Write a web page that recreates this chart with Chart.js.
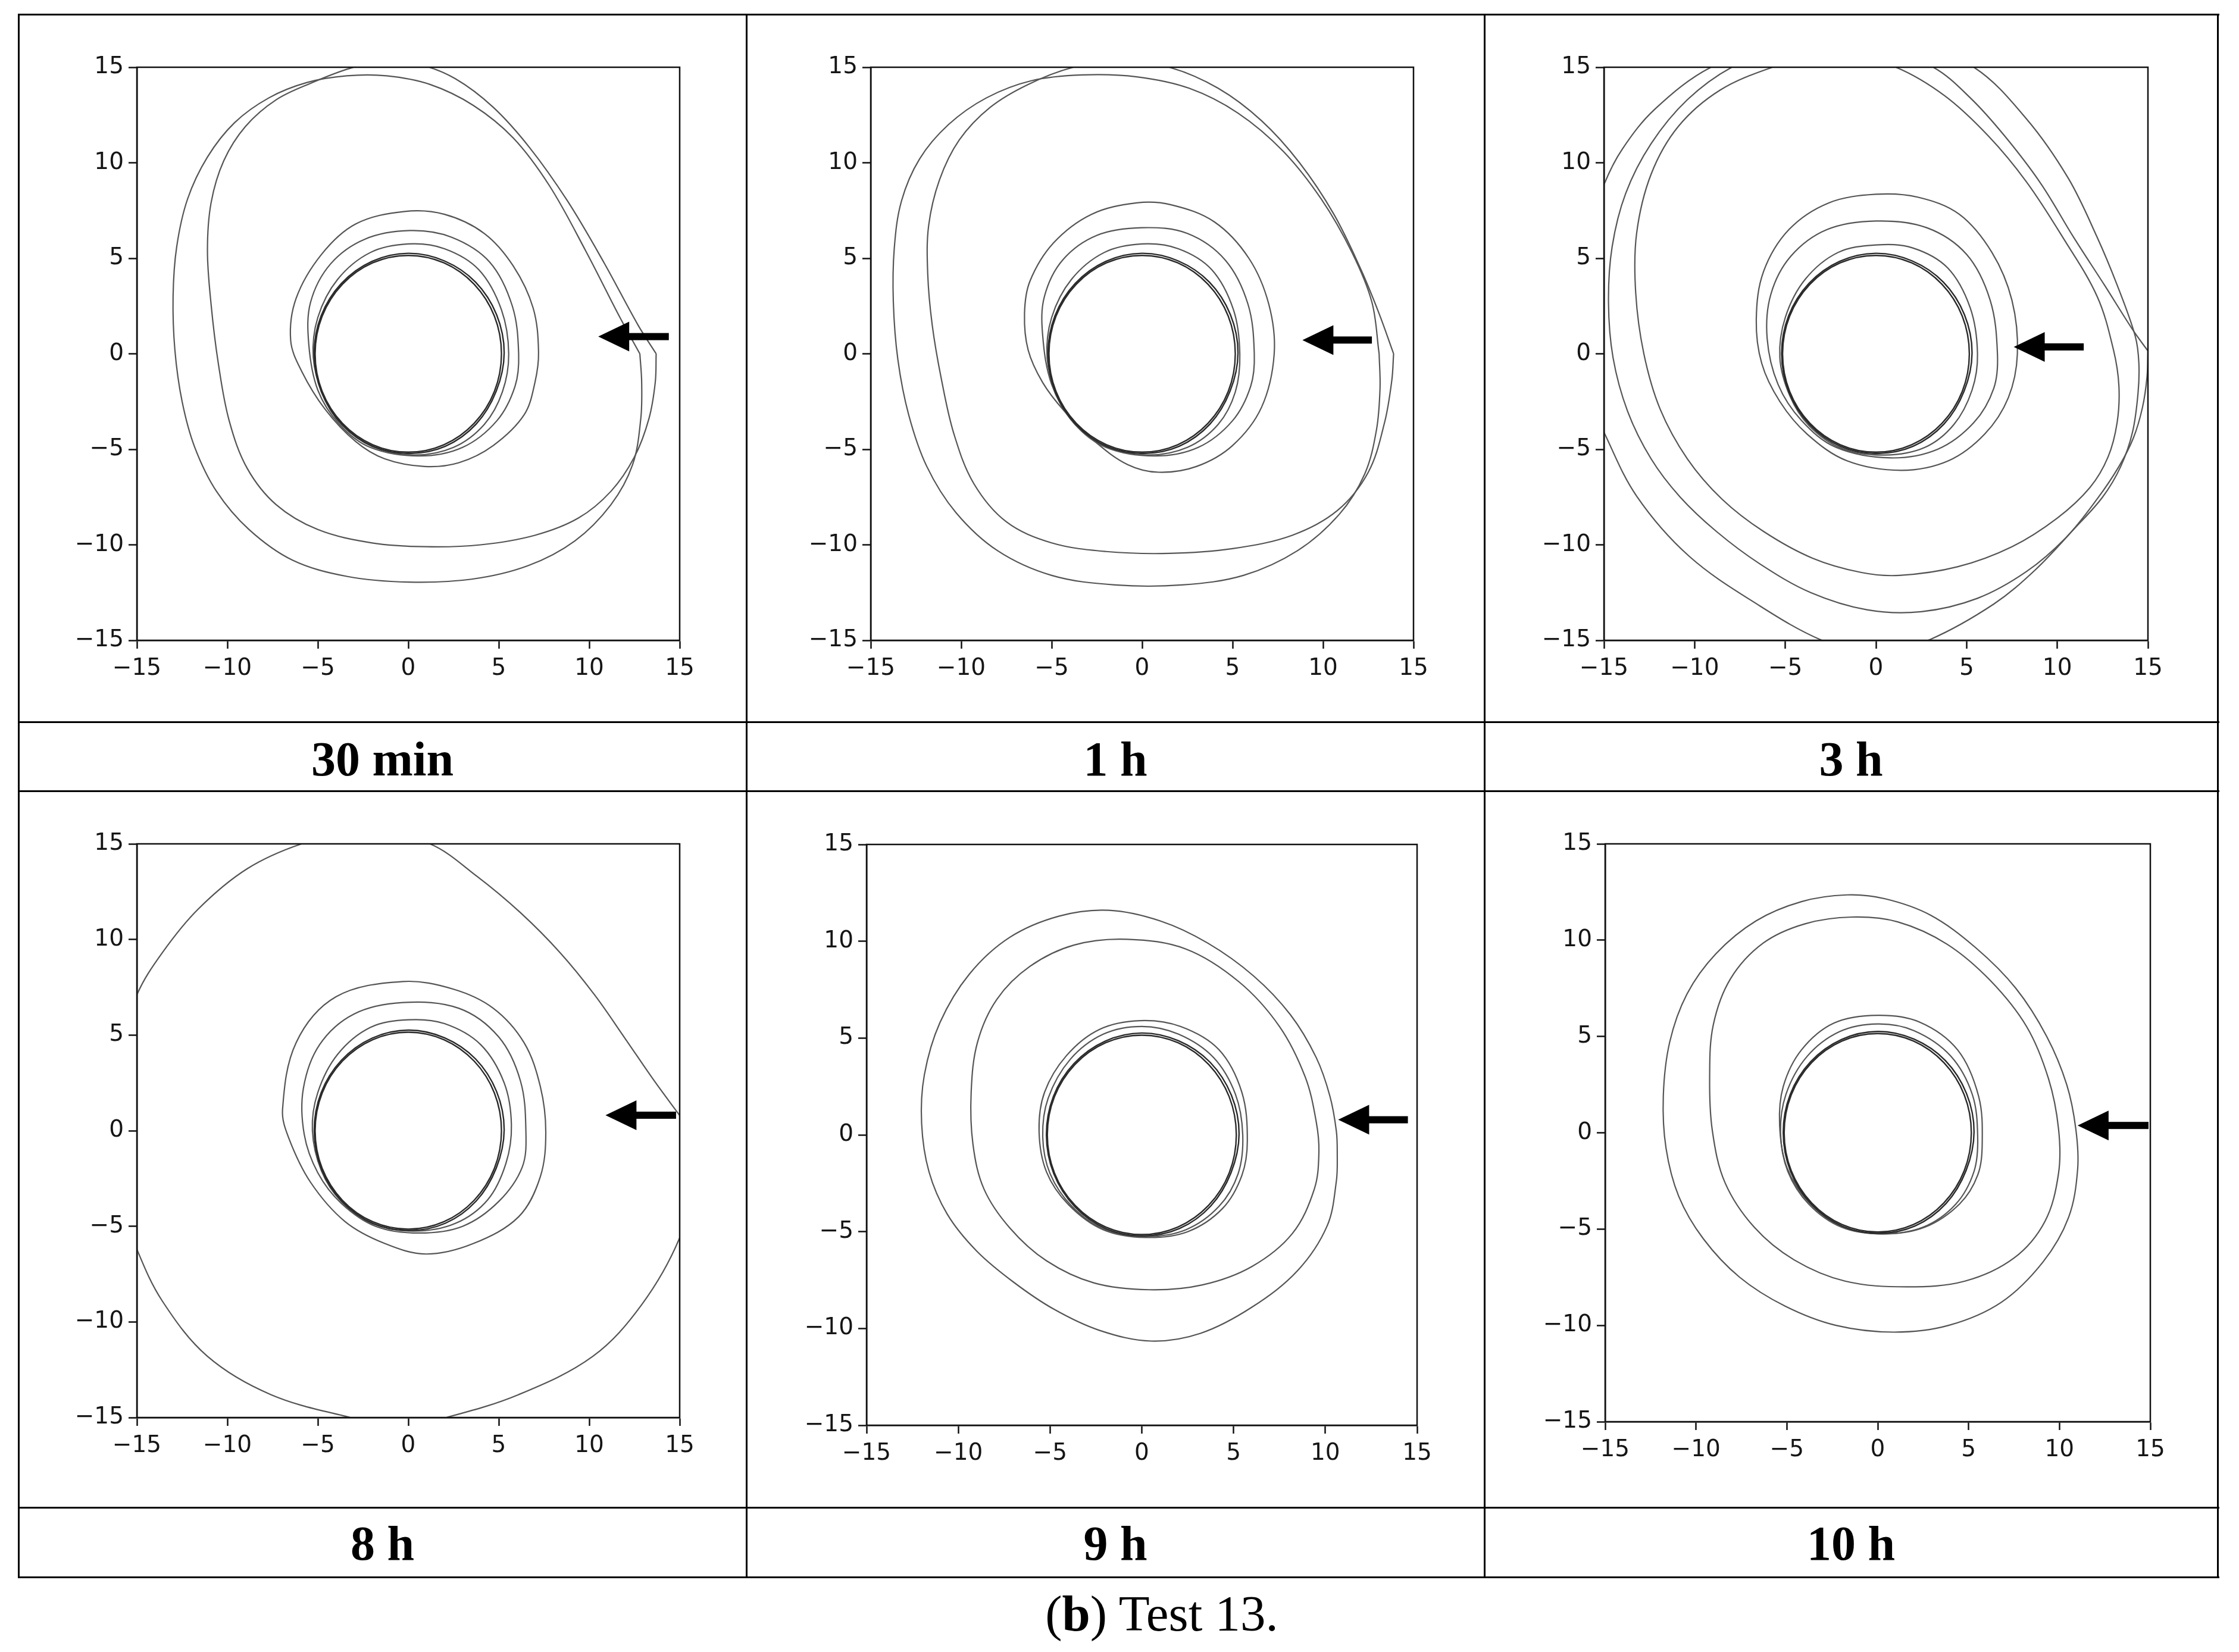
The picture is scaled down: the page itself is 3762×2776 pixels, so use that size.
<!DOCTYPE html>
<html><head><meta charset="utf-8">
<script src="https://cdn.jsdelivr.net/npm/chart.js@4.4.0/dist/chart.umd.min.js"></script>
<style>
html,body{margin:0;padding:0;background:#fff;}
body{width:3762px;height:2776px;position:relative;overflow:hidden;}
canvas{position:absolute;}
.hl{position:absolute;background:#000;height:3px;z-index:2;}
.vl{position:absolute;background:#000;width:3px;z-index:2;}
.cap{position:absolute;font-family:"Liberation Serif","Times New Roman",serif;font-weight:bold;font-size:82px;line-height:100px;height:100px;text-align:center;color:#000;}
.fig{position:absolute;left:1452px;top:2661px;width:1000px;font-family:"Liberation Serif","Times New Roman",serif;font-size:85px;line-height:100px;text-align:center;color:#000;}
</style></head>
<body>
<div class="hl" style="left:30px;top:23px;width:3699px"></div>
<div class="hl" style="left:30px;top:1212px;width:3699px"></div>
<div class="hl" style="left:30px;top:1328px;width:3699px"></div>
<div class="hl" style="left:30px;top:2532px;width:3699px"></div>
<div class="hl" style="left:30px;top:2649px;width:3699px"></div>
<div class="vl" style="left:30px;top:23px;height:2629px"></div>
<div class="vl" style="left:1253px;top:23px;height:2629px"></div>
<div class="vl" style="left:2493px;top:23px;height:2629px"></div>
<div class="vl" style="left:3725px;top:23px;height:2629px"></div>
<div class="fig">(<b>b</b>) Test 13.</div>
<script>
// ---------- data ----------
const tickValues = [-15, -10, -5, 0, 5, 10, 15];
const panelTitles = ['30 min', '1 h', '3 h', '8 h', '9 h', '10 h'];

const circleA = [[5.15,0],[4.76,1.97],[3.64,3.64],[1.97,4.76],[0,5.15],[-1.97,4.76],[-3.64,3.64],[-4.76,1.97],[-5.15,0],[-4.76,-1.97],[-3.64,-3.64],[-1.97,-4.76],[0,-5.15],[1.97,-4.76],[3.64,-3.64],[4.76,-1.97]];
const circleB = [[5.3,0.05],[4.88,2.05],[3.72,3.75],[2.0,4.86],[0,5.26],[-2.0,4.84],[-3.7,3.68],[-4.82,1.98],[-5.2,0],[-4.8,-2.0],[-3.66,-3.7],[-1.95,-4.85],[0.05,-5.22],[2.05,-4.84],[3.75,-3.68],[4.86,-1.96]];

// panel 1 : 30 min
const p1RingA = [[5.55,0],[5.15,2.3],[3.9,4.4],[2.0,5.5],[0,5.75],[-2.1,5.3],[-3.9,3.9],[-5.0,1.9],[-5.25,-0.2],[-4.7,-2.2],[-3.7,-3.7],[-2.0,-4.85],[0.3,-5.3],[2.5,-4.9],[4.2,-3.7],[5.2,-2.0]];
const p1RingB = [[6.1,0],[5.75,2.5],[4.5,4.8],[2.4,6.1],[0.1,6.45],[-2.4,6.0],[-4.3,4.7],[-5.4,2.7],[-5.5,0.5],[-5.0,-1.9],[-3.8,-3.7],[-2.1,-4.9],[0.6,-5.35],[3.0,-4.9],[4.9,-3.5],[5.9,-1.7]];
const p1RingC = [[7.2,0.1],[6.9,2.4],[5.8,4.6],[4.2,6.3],[2.0,7.3],[-0.2,7.45],[-2.9,6.8],[-4.8,5.2],[-6.2,2.9],[-6.5,0.7],[-5.9,-0.9],[-4.6,-2.9],[-2.9,-4.6],[-1.3,-5.5],[0.9,-5.9],[2.8,-5.7],[4.7,-4.8],[6.4,-3.2],[7.0,-1.5]];
const p1LoopA = [[13.7,0],[12.7,1.5],[10.8,4.8],[8.8,8.0],[6.7,10.8],[4.7,12.9],[2.6,14.4],[0.6,15.15],[-1.3,15.3],[-3.2,14.95],[-5.3,14.2],[-7.3,13.3],[-9.0,11.9],[-10.2,10.1],[-10.9,7.9],[-11.1,5.4],[-10.9,2.6],[-10.5,-0.5],[-9.9,-3.5],[-8.9,-6.0],[-7.3,-7.9],[-5.0,-9.2],[-2.0,-9.9],[1.0,-10.1],[4.0,-10.0],[7.0,-9.5],[9.4,-8.6],[11.2,-7.2],[12.5,-5.4],[13.3,-3.4],[13.65,-1.5],[13.7,0]];
const p1LoopB = [[12.8,0],[11.7,1.9],[9.8,5.4],[7.8,8.8],[5.8,11.3],[3.6,13.0],[1.2,14.1],[-1.2,14.55],[-3.4,14.55],[-5.6,14.2],[-7.7,13.4],[-9.6,12.1],[-11.1,10.3],[-12.2,8.1],[-12.8,5.6],[-13.0,3.0],[-12.9,0.2],[-12.5,-2.5],[-11.8,-4.9],[-10.6,-7.2],[-8.8,-9.2],[-6.4,-10.8],[-3.4,-11.65],[0,-11.95],[3.5,-11.8],[6.6,-11.1],[9.2,-9.8],[11.2,-7.9],[12.4,-5.8],[12.85,-3.4],[12.9,-1.5],[12.8,0]];
const p1Arrow = [14.4, 10.5, 0.9];

// panel 2 : 1 h
const p2RingA = [[5.4,0],[5.05,2.3],[3.85,4.4],[2.0,5.5],[0,5.75],[-2.1,5.3],[-3.9,3.9],[-5.0,1.9],[-5.25,-0.2],[-4.7,-2.2],[-3.7,-3.7],[-2.0,-4.85],[0.3,-5.3],[2.5,-4.9],[4.2,-3.7],[5.15,-2.0]];
const p2RingB = [[6.2,0],[5.85,2.6],[4.6,4.9],[2.5,6.3],[0,6.6],[-2.5,6.2],[-4.4,4.9],[-5.4,3.0],[-5.5,1.0],[-5.0,-1.6],[-3.8,-3.6],[-2.0,-4.9],[0.7,-5.35],[3.1,-4.9],[5.0,-3.5],[6.0,-1.7]];
const p2RingC = [[7.3,0],[7.0,2.6],[5.9,5.0],[4.0,6.9],[1.6,7.8],[-0.3,7.9],[-2.8,7.3],[-4.9,5.8],[-6.2,3.8],[-6.5,2.1],[-6.3,0.2],[-5.5,-1.5],[-4.3,-3.0],[-2.6,-4.6],[-0.8,-5.8],[0.9,-6.2],[3.0,-5.9],[5.0,-4.8],[6.6,-2.8]];
const p2LoopA = [[13.9,0],[13.1,2.1],[12.1,4.4],[10.6,7.3],[8.7,10.0],[6.6,12.2],[4.2,13.9],[1.5,15.0],[-1.2,15.35],[-3.8,15.0],[-6.3,14.1],[-8.4,12.9],[-10.1,11.2],[-11.2,9.1],[-11.8,6.7],[-11.85,4.2],[-11.6,1.5],[-11.1,-1.3],[-10.4,-4.2],[-9.3,-6.8],[-7.5,-8.8],[-5.0,-9.9],[-2.0,-10.35],[1.5,-10.45],[5.0,-10.2],[8.3,-9.5],[10.8,-8.2],[12.5,-6.2],[13.4,-3.6],[13.8,-1.4],[13.9,0]];
const p2LoopB = [[13.1,0],[12.7,2.7],[11.6,5.3],[9.9,8.1],[7.8,10.6],[5.3,12.6],[2.6,13.9],[-0.3,14.5],[-3.3,14.6],[-6.1,14.3],[-8.6,13.4],[-10.7,12.0],[-12.3,10.2],[-13.3,8.0],[-13.7,5.5],[-13.75,2.7],[-13.5,-0.3],[-12.9,-3.2],[-11.9,-5.9],[-10.3,-8.3],[-8.0,-10.3],[-5.0,-11.6],[-1.5,-12.1],[2.2,-12.1],[5.6,-11.6],[8.6,-10.3],[10.9,-8.4],[12.3,-6.3],[12.95,-4.0],[13.15,-1.8],[13.1,0]];
const p2Arrow = [12.7, 8.86, 0.72];

// panel 3 : 3 h
const p3RingA = [[5.6,0],[5.2,2.4],[3.95,4.5],[2.0,5.55],[0,5.7],[-2.1,5.3],[-3.9,3.9],[-5.0,1.9],[-5.3,-0.2],[-4.75,-2.2],[-3.7,-3.75],[-1.9,-4.95],[0.5,-5.3],[2.7,-4.9],[4.3,-3.7],[5.3,-1.9]];
const p3RingB = [[6.7,0],[6.3,2.8],[5.0,5.2],[2.8,6.6],[0,6.95],[-2.7,6.5],[-4.7,5.1],[-5.8,3.1],[-6.0,0.8],[-5.4,-1.6],[-4.1,-3.5],[-2.2,-4.9],[0.8,-5.45],[3.4,-5.0],[5.4,-3.6],[6.5,-1.8]];
const p3RingC = [[7.8,0],[7.5,2.8],[6.4,5.3],[4.6,7.3],[2.3,8.2],[0,8.35],[-2.6,7.9],[-4.8,6.5],[-6.2,4.3],[-6.6,1.8],[-6.3,-0.5],[-5.3,-2.5],[-3.8,-4.2],[-1.6,-5.6],[1.4,-6.1],[4.0,-5.6],[6.0,-4.2],[7.3,-2.3]];
const p3LoopI = [[13.1,0.2],[12.2,3.0],[10.3,6.1],[8.3,9.0],[6.2,11.4],[3.8,13.5],[1.1,15.0],[-2.3,15.9],[-5.7,15.0],[-8.6,13.8],[-10.9,11.9],[-12.4,9.4],[-13.2,6.3],[-13.25,3.2],[-12.8,0.0],[-11.9,-2.9],[-10.4,-5.5],[-8.5,-7.6],[-6.2,-9.3],[-3.5,-10.7],[-0.8,-11.45],[1.3,-11.6],[4.5,-11.15],[7.5,-10.1],[10.0,-8.6],[11.8,-7.0],[12.8,-5.4],[13.3,-3.6],[13.4,-1.7]];
const p3LoopM = [[15.0,0.15],[14.2,1.2],[12.6,3.6],[10.9,6.1],[9.1,8.9],[7.1,11.4],[5.2,13.4],[3.16,15.0],[-0.5,16.4],[-4.5,16.3],[-7.95,15.0],[-10.4,13.3],[-12.4,11.0],[-13.8,8.4],[-14.55,5.6],[-14.75,2.7],[-14.5,-0.2],[-13.7,-3.0],[-12.4,-5.5],[-10.8,-7.5],[-8.8,-9.3],[-6.4,-11.0],[-3.6,-12.5],[-0.5,-13.4],[2.5,-13.5],[5.6,-12.8],[8.3,-11.4],[10.5,-9.6],[12.2,-7.6],[13.4,-5.9],[14.2,-4.4],[14.7,-2.8],[14.95,-1.2],[15.0,0.15]];
const p3LoopO = [[14.3,0.92],[13.3,3.6],[12.2,6.1],[10.6,9.2],[8.3,12.3],[5.4,15.0],[1.0,16.8],[-4.0,16.8],[-9.1,15.0],[-12.2,12.8],[-14.0,10.7],[-15.0,8.85],[-16.0,6.0],[-16.5,2.0],[-16.2,-1.5],[-15.0,-4.1],[-13.2,-7.45],[-10.3,-10.6],[-6.4,-13.2],[-2.98,-15.0],[0,-15.8],[3.0,-14.95],[6.5,-13.1],[8.8,-11.3],[10.9,-9.2],[12.5,-7.5],[13.5,-5.9],[14.15,-4.1],[14.45,-2.1],[14.5,-0.5]];
const p3Arrow = [11.46, 7.6, 0.36];

// panel 4 : 8 h
const p4RingA = [[5.7,0.3],[5.3,2.5],[4.0,4.5],[2.0,5.6],[0,5.8],[-2.1,5.4],[-3.9,4.0],[-5.0,2.0],[-5.3,0],[-4.8,-2.1],[-3.7,-3.7],[-2.0,-4.85],[0.3,-5.25],[2.6,-4.85],[4.4,-3.6],[5.4,-1.7]];
const p4RingB = [[6.5,0],[6.2,2.6],[5.0,4.9],[2.8,6.4],[-0.3,6.7],[-3.0,6.1],[-4.9,4.5],[-5.8,2.2],[-5.75,-0.2],[-5.0,-2.2],[-3.7,-3.8],[-1.8,-5.0],[0.6,-5.35],[3.0,-5.0],[5.0,-3.7],[6.3,-1.9]];
const p4RingC = [[7.6,-0.07],[7.3,2.3],[6.4,4.6],[4.7,6.4],[2.5,7.4],[-0.3,7.8],[-4.0,7.0],[-6.2,4.6],[-6.95,1.1],[-6.6,-0.4],[-5.4,-2.7],[-3.5,-4.75],[-1.3,-5.9],[1.0,-6.45],[3.6,-5.9],[6.1,-4.5],[7.3,-2.4]];
const p4LoopA = [[15.0,0.8],[13.6,2.6],[12.0,4.8],[10.3,7.1],[8.4,9.3],[6.2,11.4],[3.8,13.3],[1.2,15.0],[-2.4,15.8],[-5.9,15.0],[-8.9,13.7],[-11.6,11.6],[-13.6,9.3],[-15.0,7.1],[-16.2,3.5],[-16.5,0],[-16.2,-3.0],[-15.0,-6.2],[-13.6,-8.9],[-11.1,-11.8],[-7.6,-13.8],[-3.2,-15.0],[-0.5,-15.5],[2.1,-15.0],[6.1,-13.8],[10.2,-11.8],[12.9,-9.1],[15.0,-5.6],[15.8,-2.5],[15.6,0],[15.0,0.8]];
const p4Arrow = [14.8, 10.9, 0.81];

// panel 5 : 9 h
const p5RingA = [[5.75,-0.3],[5.45,2.2],[4.2,4.4],[2.1,5.6],[-0.1,5.9],[-2.3,5.45],[-4.1,4.1],[-5.3,2.2],[-5.6,0.2],[-5.2,-1.9],[-4.0,-3.6],[-2.1,-4.9],[0.2,-5.3],[2.5,-5.0],[4.4,-3.8],[5.45,-2.1]];
const p5RingB = [[5.5,0],[5.1,2.1],[3.9,4.0],[2.0,5.2],[0,5.6],[-2.1,5.2],[-3.9,3.9],[-5.1,1.9],[-5.4,-0.1],[-5.0,-2.0],[-3.8,-3.7],[-2.0,-4.9],[0.2,-5.25],[2.4,-4.9],[4.2,-3.7],[5.25,-2.0]];
const p5OvalOuter = [[10.6,0.2],[10.25,2.0],[9.5,4.0],[8.1,6.2],[6.1,8.2],[3.6,9.9],[1.0,11.05],[-1.8,11.6],[-4.5,11.3],[-7.2,10.2],[-9.4,8.3],[-11.0,5.8],[-11.85,3.1],[-12.0,0.6],[-11.6,-1.9],[-10.6,-4.1],[-9.0,-6.0],[-7.0,-7.6],[-4.8,-9.0],[-2.3,-10.1],[0.5,-10.65],[3.2,-10.25],[6.0,-8.9],[8.5,-7.0],[10.1,-4.7],[10.6,-2.4],[10.65,-1.0]];
const p5OvalInner = [[9.5,0.7],[8.9,3.0],[7.5,5.6],[5.3,7.9],[2.4,9.6],[-0.8,10.1],[-3.7,9.8],[-6.1,8.7],[-7.9,7.0],[-8.95,4.8],[-9.3,2.2],[-9.2,-0.5],[-8.6,-2.8],[-7.2,-4.8],[-5.2,-6.5],[-2.6,-7.65],[0.4,-8.0],[3.3,-7.75],[6.0,-6.8],[8.2,-5.1],[9.4,-2.8],[9.65,-0.9]];
const p5Arrow = [14.5, 10.7, 0.78];

// panel 6 : 10 h
const p6RingA = [[5.75,-0.5],[5.55,1.9],[4.4,4.3],[2.3,5.75],[0,6.1],[-2.4,5.7],[-4.2,4.3],[-5.2,2.4],[-5.4,0.4],[-5.0,-1.8],[-3.8,-3.6],[-2.0,-4.85],[0.3,-5.25],[2.6,-4.9],[4.5,-3.7],[5.5,-2.2]];
const p6RingB = [[5.5,-0.2],[5.2,2.0],[4.0,4.0],[2.0,5.3],[0,5.65],[-2.1,5.25],[-3.9,3.95],[-5.05,2.0],[-5.35,0],[-4.95,-2.0],[-3.8,-3.7],[-2.0,-4.9],[0.2,-5.25],[2.5,-4.9],[4.3,-3.7],[5.3,-2.0]];
const p6OvalOuter = [[10.9,0.2],[10.4,2.5],[9.3,5.0],[7.6,7.5],[5.4,9.6],[2.9,11.3],[0.4,12.15],[-1.7,12.35],[-4.2,12.0],[-6.7,11.0],[-8.9,9.3],[-10.5,7.2],[-11.45,4.7],[-11.8,1.9],[-11.65,-0.8],[-10.95,-3.3],[-9.6,-5.5],[-7.6,-7.5],[-5.1,-9.0],[-2.3,-10.0],[0.9,-10.35],[3.9,-10.0],[6.8,-8.8],[9.1,-6.7],[10.5,-4.4],[11.0,-1.9]];
const p6OvalInner = [[9.95,0.2],[9.4,2.8],[8.2,5.5],[6.2,7.9],[3.8,9.8],[1.1,10.95],[-1.4,11.2],[-4.0,10.85],[-6.3,9.85],[-8.1,8.0],[-9.05,5.6],[-9.25,2.9],[-9.1,0.1],[-8.4,-2.6],[-6.8,-4.9],[-4.6,-6.6],[-1.8,-7.7],[1.6,-8.0],[4.8,-7.7],[7.5,-6.5],[9.2,-4.6],[9.95,-2.1]];
const p6Arrow = [14.9, 11.0, 0.38];

// ---------- layout ----------
const panels = [
  {rect:[230,113,912,963],  curves:[[circleA,1],[circleB,1],[p1RingA,1],[p1RingB,1],[p1RingC,1],[p1LoopA,0],[p1LoopB,0]], arrow:p1Arrow},
  {rect:[1463,113,912,963], curves:[[circleA,1],[circleB,1],[p2RingA,1],[p2RingB,1],[p2RingC,1],[p2LoopA,0],[p2LoopB,0]], arrow:p2Arrow},
  {rect:[2695,113,914,963], curves:[[circleA,1],[circleB,1],[p3RingA,1],[p3RingB,1],[p3RingC,1],[p3LoopI,1],[p3LoopM,0],[p3LoopO,1]], arrow:p3Arrow},
  {rect:[230,1418,912,964], curves:[[circleA,1],[circleB,1],[p4RingA,1],[p4RingB,1],[p4RingC,1],[p4LoopA,0]], arrow:p4Arrow},
  {rect:[1456,1419,925,976],curves:[[circleA,1],[circleB,1],[p5RingA,1],[p5RingB,1],[p5OvalOuter,1],[p5OvalInner,1]], arrow:p5Arrow},
  {rect:[2697,1418,916,971],curves:[[circleA,1],[circleB,1],[p6RingA,1],[p6RingB,1],[p6OvalOuter,1],[p6OvalInner,1]], arrow:p6Arrow}
];
const cellCols = [31, 1254, 2494, 3726];
const capTops = [1226, 2544];

const loopPlugin = {
  id: 'loopClose',
  afterDatasetUpdate(chart, args) {
    const ds = chart.data.datasets[args.index];
    const line = args.meta.dataset;
    if (ds.closedLoop && line) {
      line._loop = true; line._fullLoop = true;
      delete line._segments; delete line._path; line._pointsUpdated = false;
    }
  }
};
const framePlugin = {
  id: 'frameArrow',
  afterDraw(chart) {
    const ctx = chart.ctx, a = chart.chartArea;
    ctx.save();
    ctx.strokeStyle = '#111'; ctx.lineWidth = 2.5;
    ctx.strokeRect(a.left, a.top, a.right - a.left, a.bottom - a.top);
    const arr = chart.options.plugins.frameArrow.arrow;
    if (arr) {
      const xs = chart.scales.x, ys = chart.scales.y;
      const tx = xs.getPixelForValue(arr[0]), hx = xs.getPixelForValue(arr[1]), py = ys.getPixelForValue(arr[2]);
      const HL = 52, HH = 25, SH = 6;
      ctx.fillStyle = '#000';
      ctx.fillRect(hx + HL - 2, py - SH, tx - (hx + HL - 2), SH * 2);
      ctx.beginPath();
      ctx.moveTo(hx, py); ctx.lineTo(hx + HL, py - HH); ctx.lineTo(hx + HL, py + HH); ctx.closePath();
      ctx.fill();
    }
    ctx.restore();
  }
};
Chart.register(loopPlugin, framePlugin);

function axis(isX) {
  return {
    type: 'linear', min: -15, max: 15,
    afterBuildTicks: s => { s.ticks = tickValues.map(v => ({value: v})); },
    ticks: {
      autoSkip: false, maxRotation: 0, padding: isX ? 10 : 8, color: '#151515',
      font: {family: 'DejaVu Sans', size: 39},
      callback: v => (v < 0 ? '\u2212' + Math.abs(v) : String(v))
    },
    grid: {drawOnChartArea: false, drawTicks: true, tickLength: 14, tickWidth: 2.5, tickColor: '#111'},
    border: {display: true, color: '#111', width: 2.5},
    afterFit: s => { if (isX) s.height = 90; else s.width = 160; }
  };
}

panels.forEach((p, i) => {
  const [L, T, W, H] = p.rect;
  const padL = 160, padT = 40, padR = 40, padB = 90;
  const cv = document.createElement('canvas');
  cv.width = W + padL + padR; cv.height = H + padT + padB;
  cv.style.left = (L - padL) + 'px'; cv.style.top = (T - padT) + 'px';
  cv.style.width = cv.width + 'px'; cv.style.height = cv.height + 'px';
  document.body.appendChild(cv);
  const datasets = p.curves.map(([pts, closed], k) => ({
    data: pts.map(([x, y]) => ({x, y})),
    showLine: true, closedLoop: !!closed,
    borderColor: k < 2 ? '#2a2a2a' : '#555',
    borderWidth: k < 2 ? 2.4 : 2.2,
    pointRadius: 0, pointHoverRadius: 0, tension: 0.35, fill: false, clip: 0,
    capBezierPoints: false
  }));
  new Chart(cv, {
    type: 'scatter',
    data: {datasets},
    options: {
      responsive: false, maintainAspectRatio: false, animation: false, devicePixelRatio: 1,
      layout: {padding: {left: 0, top: padT, right: padR, bottom: 0}},
      elements: {line: {capBezierPoints: false}},
      events: [],
      plugins: {legend: {display: false}, tooltip: {enabled: false}, title: {display: false},
        frameArrow: {arrow: p.arrow}},
      scales: {x: axis(true), y: axis(false)}
    }
  });
  const cap = document.createElement('div');
  cap.className = 'cap';
  const col = i % 3, row = Math.floor(i / 3);
  cap.style.left = cellCols[col] + 'px';
  cap.style.width = (cellCols[col + 1] - cellCols[col]) + 'px';
  cap.style.top = capTops[row] + 'px';
  cap.textContent = panelTitles[i];
  document.body.appendChild(cap);
});
</script>
</body></html>
